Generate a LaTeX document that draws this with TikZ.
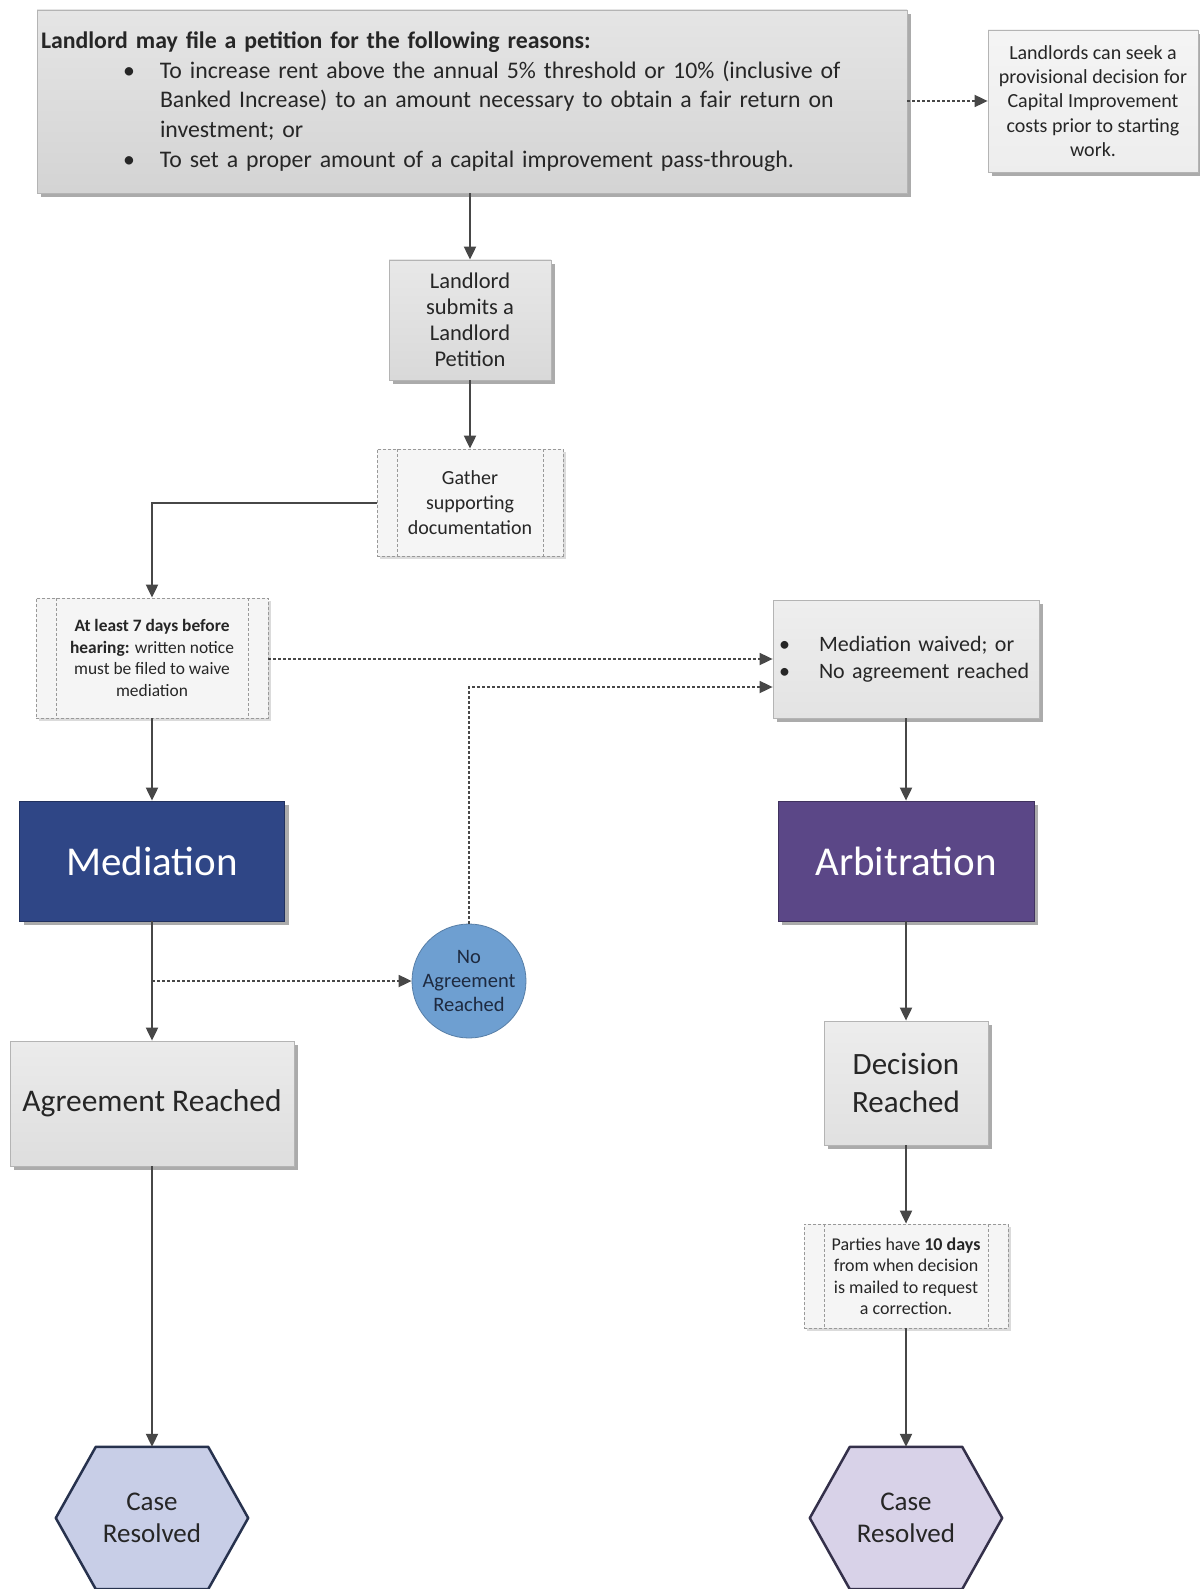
\documentclass[tikz,border=0pt]{standalone}
\usepackage{fontspec}
\setmainfont{Carlito}
\usetikzlibrary{arrows.meta,shadows,backgrounds}

\definecolor{linegray}{HTML}{474747}
\definecolor{textgray}{HTML}{262626}
\definecolor{boxedge}{HTML}{B4B4B4}
\definecolor{medblue}{HTML}{2F4686}
\definecolor{arbpurple}{HTML}{5B4787}
\definecolor{circblue}{HTML}{6E9FD1}
\definecolor{circtext}{HTML}{1E2A40}
\definecolor{hexblue}{HTML}{C8CEE7}
\definecolor{hexpurple}{HTML}{D8D2E8}
\definecolor{hexedgeL}{HTML}{27324E}
\definecolor{hexedgeR}{HTML}{34304A}
\colorlet{fillreasons}{black!17}
\colorlet{fillnote}{black!7}
\colorlet{fillpetition}{black!15}
\colorlet{fillwaived}{black!11}
\colorlet{fillagreed}{black!13}
\colorlet{filldecision}{black!12}

\tikzset{
  flow/.style={draw=linegray, line width=2pt, -{Triangle[length=13pt,width=12pt]}},
  dotflow/.style={draw=linegray, line width=1.8pt, dash pattern=on 2.5pt off 2.5pt, -{Triangle[length=13pt,width=12pt]}},
  softshadow/.style={drop shadow={shadow xshift=4pt, shadow yshift=-4pt, fill=black!60, opacity=0.55}},
  graybox/.style={draw=boxedge, line width=0.8pt, top color=#1!60!white, bottom color=#1, softshadow,
    text=textgray, align=center, inner sep=4pt},
  procbox/.style={draw=black!40, line width=0.8pt, dash pattern=on 3pt off 2pt, fill=black!4,
    drop shadow={shadow xshift=3pt, shadow yshift=-3pt, fill=black!40, opacity=0.35},
    text=textgray, align=center, inner sep=4pt,
    path picture={\draw[black!40, line width=0.8pt, dash pattern=on 3pt off 2pt]
      ([xshift=20pt]path picture bounding box.north west) -- ([xshift=20pt]path picture bounding box.south west)
      ([xshift=-20pt]path picture bounding box.north east) -- ([xshift=-20pt]path picture bounding box.south east);}},
  stagebox/.style={draw=#1!70!black, line width=0.8pt, fill=#1, softshadow, text=white,
    font=\fontsize{41}{48}\selectfont, minimum height=120pt},
  hexnode/.style={minimum width=192pt, minimum height=142pt, text=textgray, align=center,
    font=\fontsize{27}{32}\selectfont},
}

\begin{document}
\begin{tikzpicture}[x=1pt,y=-1pt]
\useasboundingbox (0,0) rectangle (1199,1589);

% top of the flow
\node (reasons) at (472,101.5) [graybox=fillreasons, minimum width=870pt, minimum height=183pt,
  text width=862pt, align=left, font=\fontsize{23.8}{29.6}\selectfont] {%
  \textbf{Landlord may file a petition for the following reasons:}\\
  \hspace*{82pt}\makebox[37pt][l]{\textbullet}To increase rent above the annual 5\% threshold or 10\% (inclusive of\\
  \hspace*{119pt}Banked Increase) to an amount necessary to obtain a fair return on\\
  \hspace*{119pt}investment; or\\
  \hspace*{82pt}\makebox[37pt][l]{\textbullet}To set a proper amount of a capital improvement pass-through.};
\node (provisional) at (1093,101) [graybox=fillnote, minimum width=210pt, minimum height=142pt,
  font=\fontsize{20}{24.3}\selectfont] {Landlords can seek a\\provisional decision for\\Capital Improvement\\costs prior to starting\\work.};
\node (petition) at (470,320) [graybox=fillpetition, minimum width=162pt, minimum height=120pt,
  font=\fontsize{22.5}{26}\selectfont] {Landlord\\submits a\\Landlord\\Petition};
\node (gather) at (470,502.5) [procbox, minimum width=186pt, minimum height=107pt,
  font=\fontsize{20}{25}\selectfont] {Gather\\supporting\\documentation};

% notice and waiver
\node (notice) at (152,658) [procbox, minimum width=232pt, minimum height=120pt,
  font=\fontsize{17.4}{21.5}\selectfont] {\textbf{At least 7 days before}\\\textbf{hearing:} written notice\\must be filed to waive\\mediation};
\node (waived) at (906,659) [graybox=fillwaived, minimum width=266pt, minimum height=118pt,
  text width=258pt, align=left, font=\fontsize{22}{27}\selectfont] {%
  \hspace*{2pt}\makebox[40pt][l]{\textbullet}Mediation waived; or\\
  \hspace*{2pt}\makebox[40pt][l]{\textbullet}No agreement reached};

% mediation and arbitration
\node (mediation) at (152,861) [stagebox=medblue, minimum width=265pt] {Mediation};
\node (arbitration) at (906,861) [stagebox=arbpurple, minimum width=256pt] {Arbitration};
\node (noagree) at (469,981) [circle, draw=circblue!80!black, line width=0.8pt, fill=circblue,
  minimum size=114pt, inner sep=0pt, align=center, text=circtext, font=\fontsize{20.5}{24.3}\selectfont]
  {No\\Agreement\\Reached};
\coordinate (branch) at (152,981);
\node (agreed) at (152,1103.5) [graybox=fillagreed, minimum width=284pt, minimum height=125pt,
  font=\fontsize{31.5}{35}\selectfont] {Agreement Reached};
\node (decision) at (906,1083) [graybox=filldecision, minimum width=164pt, minimum height=124pt,
  font=\fontsize{31}{37.5}\selectfont] {Decision\\Reached};
\node (parties) at (906,1276) [procbox, minimum width=204pt, minimum height=104pt,
  font=\fontsize{18}{21.5}\selectfont] {Parties have \textbf{10 days}\\from when decision\\is mailed to request\\a correction.};

% end states
\node (resolvedL) at (152,1518) [hexnode] {Case\\Resolved};
\node (resolvedR) at (906,1518) [hexnode] {Case\\Resolved};
\begin{scope}[on background layer]
  \fill[white] (0,0) rectangle (1199,1589);
  \filldraw[fill=hexblue, draw=hexedgeL, line width=2.5pt, line join=round]
    ([xshift=40pt]resolvedL.north west) -- ([xshift=-40pt]resolvedL.north east) -- (resolvedL.east)
    -- ([xshift=-40pt]resolvedL.south east) -- ([xshift=40pt]resolvedL.south west) -- (resolvedL.west) -- cycle;
  \filldraw[fill=hexpurple, draw=hexedgeR, line width=2.5pt, line join=round]
    ([xshift=40pt]resolvedR.north west) -- ([xshift=-40pt]resolvedR.north east) -- (resolvedR.east)
    -- ([xshift=-40pt]resolvedR.south east) -- ([xshift=40pt]resolvedR.south west) -- (resolvedR.west) -- cycle;
\end{scope}

% connectors
\draw[flow] (petition.north |- reasons.south) -- (petition.north);
\draw[dotflow] (reasons.east |- provisional.west) -- (provisional.west);
\draw[flow] (petition.south) -- (gather.north);
\draw[flow] (gather.west) -| (notice.north);
\draw[dotflow] (notice.east |- waived.west) -- (waived.west);
\draw[dotflow] (noagree.north) |- ([yshift=-28pt]waived.west);
\draw[flow] (notice.south) -- (mediation.north);
\draw[flow] (waived.south) -- (arbitration.north);
\draw[flow] (mediation.south) -- (agreed.north);
\draw[dotflow] (branch) -- (noagree.west);
\draw[flow] (arbitration.south) -- (decision.north);
\draw[flow] (decision.south) -- (parties.north);
\draw[flow] (parties.south) -- (resolvedR.north);
\draw[flow] (agreed.south) -- (resolvedL.north);
\end{tikzpicture}
\end{document}
